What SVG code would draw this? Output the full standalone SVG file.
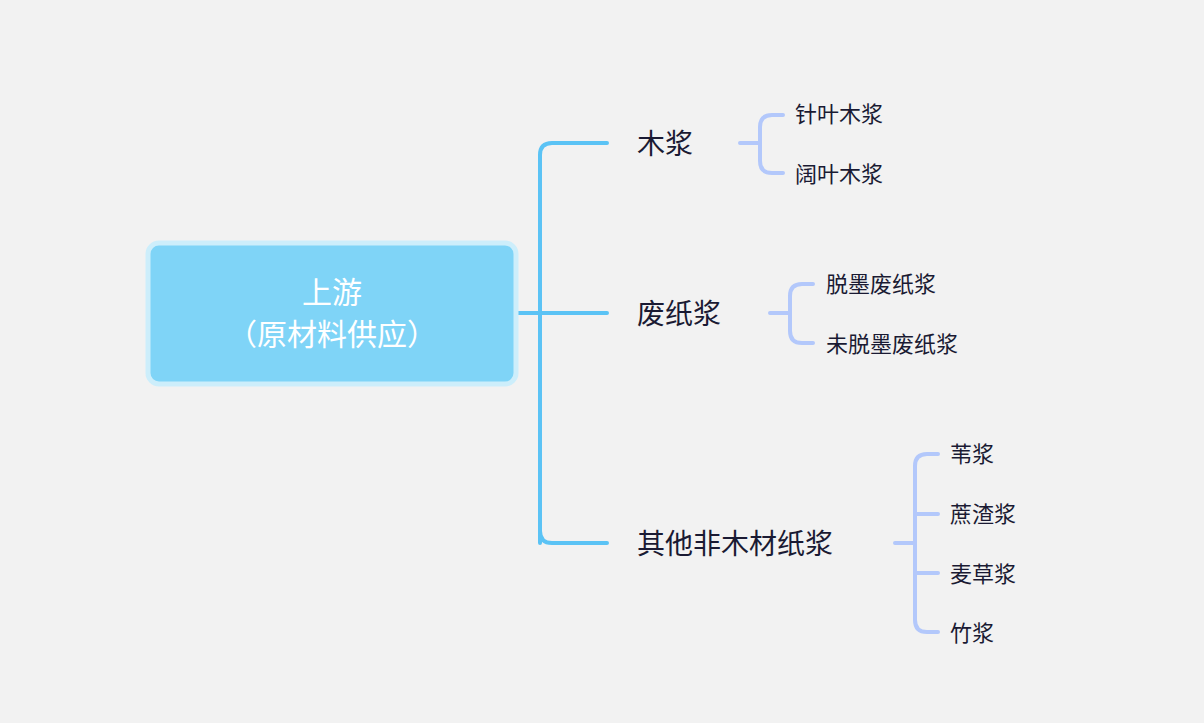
<svg xmlns="http://www.w3.org/2000/svg" width="1204" height="723" viewBox="0 0 1204 723">
<style>
.t{font-family:"Noto Sans CJK SC","Noto Sans",sans-serif;fill:#1a1a33}
.l1{font-size:28px}
.l2{font-size:22px}
.m{fill:none;stroke:#5bc3f5;stroke-width:4;stroke-linecap:round}
.s{fill:none;stroke:#b3c8fb;stroke-width:4;stroke-linecap:round}
</style>
<rect width="1204" height="723" fill="#f2f2f2"/>
<g id="connectors">
<path class="m" d="M516 313H607M540 543V155Q540 143 552 143H607M540 313V531Q540 543 552 543H607"/>
<path class="s" d="M740 143H760M783 115H772Q760 115 760 127V161Q760 173 772 173H783"/>
<path class="s" d="M770 313H790M813 284H802Q790 284 790 296V331Q790 343 802 343H813"/>
<path class="s" d="M895 543H915M938 454H927Q915 454 915 466V620Q915 632 927 632H938M915 514H938M915 573H938"/>
</g>
<g id="root">
<rect x="148" y="243" width="368" height="141" rx="11" fill="#7fd4f7" stroke="#cdeefb" stroke-width="5"/>
<text x="332" y="303" text-anchor="middle" font-family="Noto Sans CJK SC,sans-serif" font-size="30" fill="#fff">上游</text>
<text x="332" y="345" text-anchor="middle" font-family="Noto Sans CJK SC,sans-serif" font-size="30" fill="#fff">（原材料供应）</text>
</g>
<g id="n1"><text class="t l1" x="637" y="154">木浆</text></g>
<g id="n2"><text class="t l1" x="637" y="324">废纸浆</text></g>
<g id="n3"><text class="t l1" x="637" y="554">其他非木材纸浆</text></g>
<g id="n11"><text class="t l2" x="795" y="122">针叶木浆</text></g>
<g id="n12"><text class="t l2" x="795" y="182">阔叶木浆</text></g>
<g id="n21"><text class="t l2" x="826" y="292">脱墨废纸浆</text></g>
<g id="n22"><text class="t l2" x="826" y="352">未脱墨废纸浆</text></g>
<g id="n31"><text class="t l2" x="950" y="462">苇浆</text></g>
<g id="n32"><text class="t l2" x="950" y="522">蔗渣浆</text></g>
<g id="n33"><text class="t l2" x="950" y="582">麦草浆</text></g>
<g id="n34"><text class="t l2" x="950" y="641">竹浆</text></g>
</svg>
